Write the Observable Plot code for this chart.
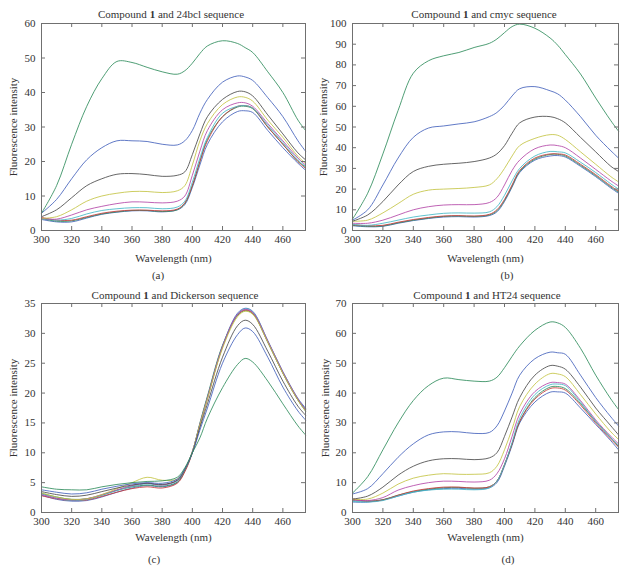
<!DOCTYPE html>
<html><head><meta charset="utf-8">
<script src="https://cdn.jsdelivr.net/npm/d3@7"></script>
<script src="https://cdn.jsdelivr.net/npm/@observablehq/plot@0.6"></script>
<style>
body{margin:0;background:#fff;}
#root{position:relative;width:633px;height:574px;font-family:"Liberation Serif","Times New Roman",Times,serif;color:#333;overflow:hidden;}
.panel{position:absolute;}
.panel svg text{font-family:"Liberation Serif","Times New Roman",Times,serif;}
.title,.cap{position:absolute;font-size:11px;white-space:nowrap;transform:translate(-50%,-50%);line-height:1;}
</style></head>
<body><div id="root"></div>
<script>
// Wavelength grid (nm)
const wavelengths = [300,310,320,330,340,350,360,370,380,390,395,400,405,410,420,430,435,440,450,460,470,475];
const xTicks = [300,320,340,360,380,400,420,440,460];
const seriesColors = ["#4562bc","#2f8c5c","#c63a3a","#45b8c6","#b447a8","#c4c444","#4a4a4a","#4562bc","#2f8c5c"];

// Panel (a): Compound 1 and 24bcl sequence
const bcl24 = [
  [3.2,2.5,2.5,3.6,4.7,5.3,5.7,5.7,5.4,6.0,7.5,12.5,19,25,31.5,34.5,34.7,34.2,29,24,19.5,17.5],
  [3.5,2.7,2.8,3.8,4.8,5.4,5.8,5.8,5.5,6.0,7.8,13,20,26.5,33,35.8,36,35.3,30,25,20,18.5],
  [3.8,3.0,3.0,4.0,5.0,5.6,5.9,5.9,5.7,6.2,8.0,13,20,26,33,36,36.2,35.5,30,25,20,18],
  [3.5,3.0,3.5,4.8,5.8,6.3,6.6,6.6,6.3,6.8,8.5,14,21,27,34,36,36.2,35.5,30.5,25.5,20.5,18.5],
  [3.5,3.3,4.5,6.0,7.0,7.8,8.3,8.2,8.0,8.5,10,16,23,29,35,37,37,36,31,26,21,19],
  [3.5,4.0,6.0,8.5,10,10.8,11.3,11.3,11,11.5,13,19,26,31,36.5,38.7,38.6,37.5,32,27,21.5,19.5],
  [4.0,6.0,9.5,13,15,16.3,16.5,16.2,15.7,16,17,22,28,33,38,40.3,40.2,39,33.5,28,22.5,20.5],
  [5.0,9.0,15,20.5,24,26,26,25.8,25,24.8,26,29,34,38,43,44.8,44.5,43.5,38.5,33,26,23],
  [5.0,13,25,36,44,49,48.7,47.3,46,45.3,46.3,48.5,51.3,53.5,55,54.2,53,51.6,46,40,32,29]
];
const bcl24Y = [0,10,20,30,40,50,60];

// Panel (b): Compound 1 and cmyc sequence
const cmyc = [
  [2.3,1.8,2.0,3.5,4.8,5.8,6.5,6.7,6.5,7.2,9.0,14,21,28,34,36,36.2,35.5,31,26,20.5,18],
  [2.5,2.0,2.2,3.7,5.0,6.0,6.8,7.0,6.8,7.5,9.5,14.5,21.5,28.5,34.5,36.7,36.8,36,31.5,26.5,21,18.5],
  [2.8,2.3,2.5,4.0,5.3,6.3,7.0,7.2,7.0,7.8,10,15,22,29,35,37,37,36.5,32,27,21.5,19],
  [3.0,2.5,3.5,5.0,6.5,7.5,8.3,8.5,8.4,9.0,11.5,17,24,30,36,38.2,38,37.5,33,28,22.5,20],
  [3.5,3.5,5.0,7.5,10,11.5,12.3,12.5,12.5,13.5,16,22,29,34,39.5,41.3,41,40,35,29.5,24,21.5],
  [4.5,5.0,8.5,13,17.5,19.5,20,20.3,20.8,22,25,30,36,41,44.5,46.3,46,44,38,32,26,23.5],
  [4.5,7.5,14,22,28.5,31,32,32.5,33.3,35,37,41,47,52,54.8,55,54,52,45,38,31,28.5],
  [5.0,10,22,35,45,49.5,50.5,51.5,52.5,55,57,60.5,65,68.5,69.5,67.5,66,63,55,46,38.5,35],
  [5.5,18,37,58,76,82,84.4,86,88.4,90.4,92.5,95.6,98.5,99.7,97.7,93,89.5,85,75.6,64,53,48]
];
const cmycY = [0,10,20,30,40,50,60,70,80,90,100];

// Panel (c): Compound 1 and Dickerson sequence
const dickerson = [
  [2.9,2.2,1.9,2.0,2.6,3.4,4.1,4.5,4.3,5.0,7.0,10.2,14.8,19.3,27.9,33.4,34.2,33.7,28.8,23.6,19.1,17.5],
  [3.2,2.6,2.2,2.3,2.9,3.7,4.3,4.6,4.4,5.1,7.0,10.1,15,19.5,28,33,33.8,33.3,28.5,23.3,18.8,17],
  [2.8,2.3,2.0,2.1,2.7,3.4,4.0,4.3,4.1,4.9,6.8,10,14.6,19.1,27.7,33.1,33.9,33.4,28.6,23.4,18.9,17.3],
  [3.1,2.4,2.0,2.2,2.9,3.7,4.4,4.8,4.6,5.3,7.1,10.1,14.7,19.2,27.8,33.2,34.1,33.6,28.7,23.5,19,17.3],
  [3.0,2.4,2.1,2.3,3.0,3.8,4.5,4.9,4.6,5.4,7.2,10.2,14.8,19.2,27.8,33.2,34.0,33.5,28.7,23.5,19,17.2],
  [3.3,2.6,2.2,2.3,3.0,4.0,5.0,5.9,5.4,5.6,7.2,10.2,14.7,19,27.5,32.8,33.7,33.2,28.5,23.3,18.8,17],
  [3.5,3.0,2.7,2.9,3.5,4.1,4.6,4.9,4.7,5.4,7.2,10,14.2,18.2,26,31.3,32.2,31.5,27,22,17.8,16.3],
  [3.8,3.4,3.1,3.3,3.9,4.4,4.8,5.0,4.9,5.6,7.3,10,13.8,17.5,25,29.8,30.9,30.3,26,21,17,15.5],
  [4.3,3.9,3.8,3.8,4.3,4.7,5.0,5.2,5.3,5.9,7.5,10,12.5,15.8,20.9,24.8,25.8,25.2,22,18.2,14.5,13]
];
const dickersonY = [0,5,10,15,20,25,30,35];

// Panel (d): Compound 1 and HT24 sequence
const ht24 = [
  [3.5,3.5,4.2,5.5,6.8,7.6,8.0,8.1,7.8,8.3,10,15.5,22.5,30,37,40.3,40.4,40,35,29.5,24,21],
  [4.0,3.8,4.3,5.8,7.0,7.8,8.3,8.4,8.1,8.6,10.5,16,23,30.5,38.5,42,42.2,41.5,36.5,30.5,25,22],
  [4.5,3.8,4.2,5.8,7.2,8.0,8.5,8.5,8.2,8.6,10.5,16,23,30.5,38,41.5,41.7,41,36,30,24.5,22],
  [3.7,3.5,4.0,5.5,6.8,7.5,7.8,7.8,7.6,8.2,10.5,16,23.5,31.5,39.5,42.8,43,42.5,37,30.5,25,22.5],
  [4.2,4.0,5.0,7.5,9.0,10,10.5,10.4,10.2,10.8,13,18,25.5,33,40.5,43.5,43.5,43,37.5,31,25.5,23],
  [4.5,4.5,6.5,9.5,11.5,12.5,13,12.8,12.8,13.3,15.5,21,28,35.5,43,46.5,46.4,45.5,39.5,33,27,24.5],
  [4.5,5.5,8.5,12.5,15.5,17.3,18,18,17.7,18.3,20,25.5,32,38.5,46,49.2,49,48,42,35,29,26],
  [6.2,8.0,13,18.5,23,26,27,27,26.5,26.8,29,34,40,46,51.5,53.7,53.5,53,46,38.5,32,29],
  [6.5,12,21,30,37.5,42.5,45,44.5,44,44,45.3,48.5,52.3,55.8,61,63.8,63.5,62,55,46,38,34.5]
];
const ht24Y = [0,10,20,30,40,50,60,70];

const panels = [
  {data: bcl24, yTicks: bcl24Y, title: "24bcl", cap: "(a)", left: 0, top: 0, width: 316, height: 264,
   m: {t: 23, r: 11, b: 34, l: 41}, xlo: 31, ylo: 32, tx: 171, ty: 14, cx: 158, cy: 275},
  {data: cmyc, yTicks: cmycY, title: "cmyc", cap: "(b)", left: 316, top: 0, width: 317, height: 264,
   m: {t: 23, r: 15, b: 34, l: 36}, xlo: 31, ylo: 33, tx: 484, ty: 14, cx: 507, cy: 275},
  {data: dickerson, yTicks: dickersonY, title: "Dickerson", cap: "(c)", left: 0, top: 287, width: 316, height: 264,
   m: {t: 16, r: 11, b: 39, l: 41}, xlo: 28, ylo: 32, tx: 175, ty: 295, cx: 154, cy: 559},
  {data: ht24, yTicks: ht24Y, title: "HT24", cap: "(d)", left: 316, top: 287, width: 317, height: 264,
   m: {t: 16, r: 15, b: 39, l: 36}, xlo: 28, ylo: 31, tx: 487, ty: 295, cx: 508, cy: 559}
];

const root = document.getElementById("root");
const axisColor = "#707070";
const serif = "'Liberation Serif', 'Times New Roman', Times, serif";

for (const p of panels) {
  const rows = [];
  p.data.forEach((s, i) => s.forEach((v, j) => rows.push({w: wavelengths[j], v, s: i})));
  const ph = p.height - p.m.t - p.m.b;
  const pw = p.width - p.m.l - p.m.r;
  const yMax = p.yTicks[p.yTicks.length - 1];
  const chart = Plot.plot({
    width: p.width, height: p.height,
    marginTop: p.m.t, marginRight: p.m.r, marginBottom: p.m.b, marginLeft: p.m.l,
    style: {fontFamily: serif, fontSize: "11px", color: "#333", background: "white", overflow: "visible"},
    x: {domain: [300, 475]},
    y: {domain: [0, yMax]},
    color: {type: "ordinal", domain: d3.range(9), range: seriesColors},
    marks: [
      Plot.line(rows, {x: "w", y: "v", z: "s", stroke: "s", strokeWidth: 0.85, curve: "catmull-rom"}),
      Plot.frame({stroke: axisColor}),
      Plot.tickX(xTicks, {x: d => d, insetTop: ph - 4, stroke: axisColor}),
      Plot.tickX(xTicks, {x: d => d, insetBottom: ph - 4, stroke: axisColor}),
      Plot.tickY(p.yTicks, {y: d => d, insetRight: pw - 4, stroke: axisColor}),
      Plot.tickY(p.yTicks, {y: d => d, insetLeft: pw - 4, stroke: axisColor}),
      Plot.axisX(xTicks, {tickSize: 0, tickPadding: 5, fontSize: 11, label: "Wavelength (nm)", labelAnchor: "center", labelOffset: p.xlo, labelArrow: "none"}),
      Plot.axisY(p.yTicks, {tickSize: 0, tickPadding: 6, fontSize: 11, label: "Fluorescence intensity", labelAnchor: "center", labelOffset: p.ylo, labelArrow: "none"})
    ]
  });
  const wrap = document.createElement("div");
  wrap.className = "panel";
  wrap.style.left = p.left + "px";
  wrap.style.top = p.top + "px";
  wrap.appendChild(chart);
  root.appendChild(wrap);

  const t = document.createElement("div");
  t.className = "title";
  t.style.left = p.tx + "px";
  t.style.top = p.ty + "px";
  t.innerHTML = "Compound <b>1</b> and " + p.title + " sequence";
  root.appendChild(t);

  const c = document.createElement("div");
  c.className = "cap";
  c.style.left = p.cx + "px";
  c.style.top = p.cy + "px";
  c.textContent = p.cap;
  root.appendChild(c);
}
</script>
</body></html>
